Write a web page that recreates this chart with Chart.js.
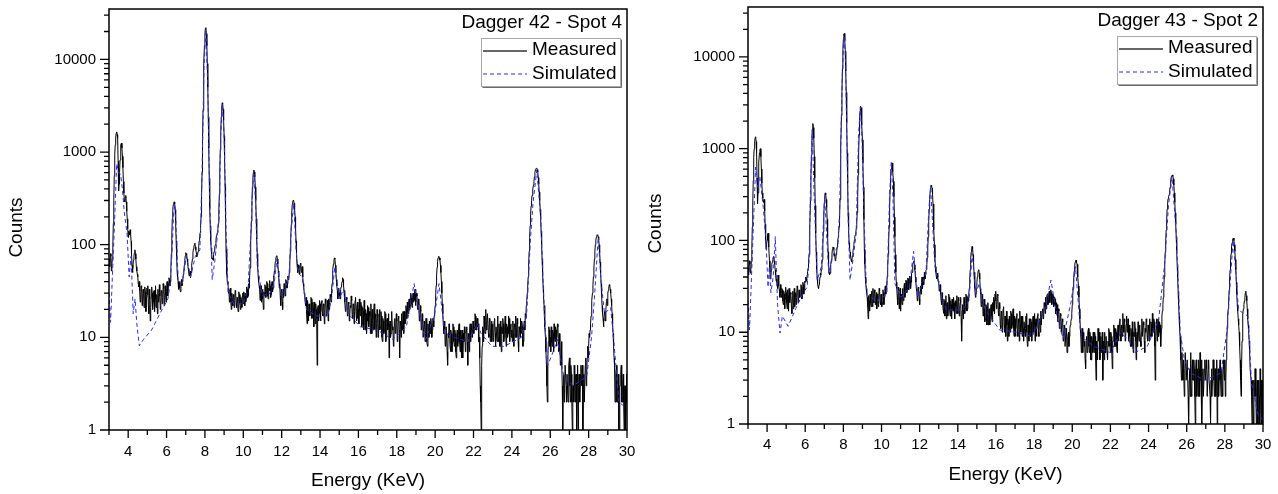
<!DOCTYPE html>
<html>
<head>
<meta charset="utf-8">
<script src="https://cdn.jsdelivr.net/npm/chart.js@4.4.1/dist/chart.umd.min.js"></script>
<style>
  html, body { margin: 0; padding: 0; background: #fff; }
  #wrap { position: relative; width: 1278px; height: 494px; }
  canvas { position: absolute; top: 0; }
  #left { left: 0; }
  #right { left: 640px; }
</style>
</head>
<body>
<div id="wrap">
  <canvas id="left" width="640" height="494"></canvas>
  <canvas id="right" width="638" height="494"></canvas>
</div>
<script>
const FONT = '"Liberation Sans", Arial, sans-serif'

// energy grid of the measured spectra (keV)
const channelStart = 3.0
const channelStep = 0.025

const xTickValues = [4, 6, 8, 10, 12, 14, 16, 18, 20, 22, 24, 26, 28, 30]
const xMinorValues = [3, 5, 7, 9, 11, 13, 15, 17, 19, 21, 23, 25, 27, 29]
const yTickValues = [1, 10, 100, 1000, 10000]
const yMinorFactors = [2, 3, 4, 5, 6, 7, 8, 9]

const seriesNames = ["Measured", "Simulated"]
const panelTitles = ["Dagger 42 - Spot 4", "Dagger 43 - Spot 2"]
const xAxisTitle = "Energy (KeV)"
const yAxisTitle = "Counts"

// Dagger 42 - measured counts, one row per keV (3.000, 3.025 ... 3.975, then 4.000 ...)
const measured42 = [
  70, 64, 58, 80, 75, 52, 60, 72, 95, 170, 300, 560, 950, 1200, 1450, 1600, 1650, 1550, 1400, 800, 380, 450, 600, 820, 1050, 1200, 1250, 1100, 900, 680, 480, 360, 300, 290, 320, 340, 290, 230, 190, 150,
  120, 140, 135, 128, 145, 130, 110, 80, 60, 50, 55, 68, 75, 82, 88, 80, 70, 58, 52, 48, 45, 38, 35, 40, 32, 24, 28, 36, 34, 22, 26, 33, 30, 21, 24, 35, 31, 19, 27, 34,
  29, 36, 22, 18, 33, 26, 15, 21, 27, 35, 30, 20, 24, 31, 32, 19, 26, 36, 21, 28, 29, 18, 33, 24, 25, 37, 28, 20, 22, 32, 30, 23, 27, 38, 34, 22, 25, 36, 29, 24,
  31, 40, 35, 28, 38, 44, 42, 36, 40, 55, 80, 130, 190, 240, 270, 285, 290, 275, 240, 170, 110, 75, 52, 44, 40, 33, 36, 40, 34, 31, 38, 42, 36, 40, 44, 48, 52, 60, 68, 76,
  82, 80, 78, 70, 62, 56, 52, 46, 48, 52, 44, 50, 55, 62, 70, 82, 90, 96, 100, 104, 95, 88, 82, 74, 78, 80, 85, 95, 110, 122, 135, 160, 200, 330, 600, 1300, 2800, 5200, 9000, 14000,
  19000, 21500, 22000, 19000, 14000, 9000, 5000, 2400, 1100, 520, 250, 160, 110, 92, 80, 70, 72, 68, 78, 84, 90, 95, 100, 112, 125, 130, 135, 150, 170, 230, 350, 620, 1050, 1600, 2400, 3000, 3400, 3300, 2900, 2200,
  1500, 850, 450, 200, 90, 62, 48, 38, 40, 30, 33, 24, 28, 34, 24, 20, 30, 25, 22, 29, 27, 21, 25, 32, 31, 23, 21, 27, 26, 19, 24, 31, 29, 23, 20, 27, 25, 21, 28, 30,
  23, 31, 27, 22, 30, 24, 26, 35, 33, 27, 28, 38, 34, 42, 56, 80, 110, 180, 300, 420, 530, 600, 640, 610, 540, 420, 300, 190, 115, 80, 58, 46, 40, 36, 33, 25, 28, 36, 24, 30,
  33, 26, 20, 31, 28, 37, 35, 27, 30, 40, 38, 28, 26, 34, 32, 41, 36, 27, 29, 38, 40, 31, 34, 46, 45, 52, 60, 66, 72, 75, 76, 70, 62, 52, 45, 34, 38, 28, 22, 33,
  30, 24, 20, 33, 27, 38, 35, 28, 32, 42, 40, 34, 38, 46, 42, 45, 50, 64, 85, 120, 165, 220, 270, 292, 300, 295, 280, 245, 200, 150, 110, 80, 62, 55, 50, 60, 56, 48, 52, 63,
  62, 50, 55, 58, 45, 38, 35, 30, 28, 24, 22, 27, 18, 14, 25, 19, 15, 23, 22, 17, 19, 27, 26, 16, 17, 24, 21, 13, 24, 19, 14, 23, 20, 16, 5, 21, 22, 15, 18, 25,
  23, 15, 19, 24, 25, 18, 17, 23, 22, 14, 20, 26, 24, 17, 18, 25, 21, 15, 26, 20, 22, 29, 28, 24, 32, 38, 45, 54, 62, 68, 72, 70, 60, 50, 42, 36, 32, 26, 28, 34,
  30, 28, 26, 33, 35, 38, 40, 44, 42, 36, 32, 27, 24, 19, 20, 27, 26, 17, 18, 24, 23, 15, 17, 22, 21, 28, 25, 17, 16, 23, 22, 14, 19, 25, 27, 18, 15, 21, 24, 16,
  20, 14, 26, 19, 17, 24, 22, 13, 14, 21, 19, 12, 25, 17, 12, 20, 18, 11, 15, 22, 21, 14, 13, 19, 17, 11, 23, 16, 11, 20, 16, 12, 19, 23, 12, 17, 18, 10, 14, 20,
  16, 10, 11, 18, 20, 12, 13, 19, 17, 10, 9, 16, 15, 11, 12, 19, 18, 9, 10, 15, 16, 12, 13, 18, 6, 14, 15, 10, 11, 19, 17, 12, 13, 8, 9, 15, 16, 11, 12, 18,
  15, 9, 11, 16, 17, 12, 6, 15, 14, 10, 18, 13, 12, 19, 16, 11, 19, 14, 15, 22, 20, 16, 24, 19, 18, 25, 26, 20, 22, 30, 28, 23, 21, 27, 30, 24, 25, 31, 33, 22,
  24, 30, 28, 21, 20, 26, 22, 15, 16, 22, 19, 12, 13, 18, 15, 10, 10, 15, 14, 9, 11, 16, 13, 9, 8, 14, 12, 10, 15, 11, 11, 16, 14, 10, 12, 16, 15, 13, 17, 19,
  22, 28, 36, 46, 57, 66, 72, 74, 75, 72, 68, 60, 50, 40, 30, 23, 18, 14, 11, 15, 12, 8, 9, 13, 13, 7, 5, 11, 10, 14, 12, 8, 7, 12, 11, 7, 9, 14, 13, 9,
  8, 12, 11, 7, 6, 10, 12, 8, 9, 13, 14, 9, 7, 12, 10, 6, 12, 9, 6, 11, 9, 13, 11, 7, 8, 12, 13, 9, 5, 11, 10, 7, 12, 14, 9, 12, 14, 10, 11, 15,
  15, 11, 13, 18, 17, 12, 12, 16, 16, 13, 14, 9, 10, 6, 3, 2, 1, 5, 8, 13, 12, 9, 17, 13, 11, 16, 20, 12, 14, 18, 18, 11, 10, 16, 15, 9, 12, 15, 9, 13,
  14, 9, 10, 15, 16, 11, 8, 13, 13, 9, 17, 12, 9, 14, 12, 8, 15, 11, 7, 13, 11, 16, 14, 9, 10, 13, 17, 11, 8, 14, 13, 10, 11, 17, 16, 10, 9, 13, 14, 10,
  12, 9, 15, 11, 8, 14, 13, 10, 17, 12, 10, 16, 14, 9, 7, 13, 12, 10, 16, 12, 11, 15, 13, 8, 9, 14, 15, 12, 18, 16, 22, 25, 30, 36, 45, 62, 85, 120, 160, 210,
  260, 300, 340, 370, 400, 440, 480, 540, 600, 640, 660, 668, 670, 645, 610, 530, 450, 370, 300, 240, 190, 140, 100, 70, 50, 36, 28, 22, 18, 13, 10, 7, 5, 3, 2, 6, 9, 13, 12, 8,
  10, 7, 13, 9, 8, 12, 11, 7, 14, 10, 9, 13, 12, 8, 10, 14, 13, 9, 7, 11, 9, 5, 6, 9, 5, 3, 1, 3, 4, 2, 3, 5, 5, 3, 2, 4, 4, 2, 3, 5,
  6, 3, 2, 5, 4, 2, 1, 3, 3, 2, 5, 3, 2, 4, 4, 1, 3, 5, 1, 3, 4, 2, 2, 4, 5, 3, 3, 5, 1, 3, 4, 2, 2, 5, 6, 3, 4, 6, 8, 6,
  8, 11, 10, 12, 14, 17, 20, 25, 30, 37, 45, 56, 70, 85, 100, 112, 120, 125, 128, 126, 122, 112, 100, 82, 65, 50, 38, 29, 22, 18, 16, 13, 15, 19, 18, 15, 20, 24, 26, 22,
  30, 32, 34, 37, 36, 33, 30, 26, 22, 18, 14, 11, 8, 6, 5, 2, 3, 4, 5, 2, 2, 3, 4, 1, 1, 3, 3, 4, 5, 2, 2, 3, 4, 2, 1, 3, 3, 1, 2, 4,
  2
]

// Dagger 42 - simulated spectrum (smooth curve)
const simEnergy42 = [
  3.0, 3.08, 3.2, 3.3, 3.4, 3.5, 3.6, 3.7, 3.8, 3.94,
  4.05, 4.15, 4.26, 4.36, 4.45, 4.58, 4.8, 5.22, 5.65, 6.07,
  6.2, 6.29, 6.37, 6.44, 6.52, 6.6, 6.82, 7.03, 7.25, 7.5,
  7.74, 7.85, 7.95, 8.05, 8.15, 8.25, 8.38, 8.53, 8.74, 8.82,
  8.91, 9.0, 9.1, 9.21, 9.5, 10.0, 10.25, 10.39, 10.5, 10.56,
  10.65, 10.73, 10.99, 11.4, 11.62, 11.75, 11.9, 12.06, 12.38, 12.5,
  12.63, 12.75, 12.85, 13.06, 13.3, 13.8, 14.4, 14.6, 14.77, 15.0,
  15.22, 15.47, 16.1, 16.97, 17.8, 18.5, 18.9, 19.2, 19.5, 19.96,
  20.2, 20.5, 21.0, 21.7, 22.2, 22.4, 22.95, 23.6, 24.5, 24.77,
  24.95, 25.1, 25.3, 25.5, 25.7, 25.87, 26.15, 26.37, 26.7, 27.2,
  27.9, 28.15, 28.3, 28.5, 28.65, 28.83, 29.15, 29.36, 29.58, 30.0
]
const simCounts42 = [
  30, 14.5, 60, 200, 750, 600, 580, 400, 220, 133,
  45, 75, 18, 26, 14, 8.1, 9.5, 12, 18, 26,
  40, 88, 220, 270, 120, 42, 38, 75, 45, 75,
  88, 600, 8000, 21000, 5000, 300, 42, 70, 200, 1500,
  3300, 1500, 150, 30, 23, 23, 35, 130, 450, 580,
  250, 58, 28, 30, 40, 70, 35, 28, 45, 150,
  280, 90, 50, 45, 20, 17, 17, 26, 58, 26,
  33, 18, 13, 12, 9.5, 13, 38, 17, 9.5, 17,
  38, 11, 10, 9, 14, 11, 8, 8, 10, 18,
  100, 280, 640, 200, 17, 5, 7, 9.5, 3.8, 3.0,
  3.8, 10, 26, 120, 40, 18, 21, 7, 2, 1.7
]

// Dagger 43 - measured counts, one row per keV
const measured43 = [
  50, 42, 45, 60, 55, 44, 48, 58, 80, 140, 250, 450, 800, 1000, 1200, 1320, 1350, 1200, 900, 480, 250, 330, 500, 700, 900, 980, 1000, 820, 600, 420, 330, 290, 270, 260, 280, 210, 150, 100, 80, 90,
  100, 115, 120, 100, 85, 60, 45, 38, 40, 48, 55, 58, 62, 66, 67, 60, 55, 48, 42, 36, 38, 33, 30, 42, 40, 32, 28, 24, 33, 27, 24, 30, 29, 22, 20, 28, 26, 18, 23, 31,
  27, 21, 18, 29, 25, 17, 30, 22, 21, 27, 26, 19, 16, 24, 28, 18, 23, 30, 19, 25, 27, 20, 24, 32, 30, 21, 22, 29, 28, 24, 25, 33, 31, 23, 27, 35, 33, 26, 29, 36,
  35, 40, 38, 36, 42, 46, 50, 58, 70, 95, 140, 270, 500, 850, 1300, 1650, 1880, 1700, 1300, 820, 480, 240, 120, 75, 48, 40, 34, 31, 30, 33, 36, 40, 44, 42, 48, 55, 62, 90, 125, 190,
  260, 310, 330, 315, 280, 230, 170, 110, 75, 55, 45, 42, 44, 50, 55, 62, 70, 80, 85, 84, 80, 72, 68, 60, 62, 70, 75, 85, 95, 108, 120, 140, 165, 280, 500, 1100, 2300, 4200, 7400, 12000,
  15500, 17800, 18000, 15000, 11500, 7000, 4100, 1900, 900, 420, 200, 130, 95, 82, 75, 68, 62, 58, 60, 68, 75, 82, 90, 100, 110, 115, 120, 135, 150, 200, 300, 520, 900, 1400, 2050, 2600, 2900, 2800, 2450, 1800,
  1250, 700, 380, 170, 80, 55, 40, 34, 30, 26, 24, 19, 14, 25, 22, 17, 26, 21, 19, 28, 25, 19, 30, 22, 21, 29, 27, 20, 23, 27, 18, 24, 26, 19, 22, 30, 28, 21, 20, 26,
  25, 19, 21, 29, 27, 20, 24, 30, 32, 26, 30, 34, 40, 52, 70, 100, 140, 230, 360, 480, 600, 670, 700, 650, 560, 440, 300, 180, 110, 70, 45, 35, 30, 24, 20, 31, 28, 18, 22, 30,
  17, 24, 26, 20, 30, 25, 22, 31, 34, 24, 28, 37, 36, 27, 30, 39, 38, 29, 33, 41, 40, 30, 35, 44, 45, 50, 55, 58, 60, 54, 48, 40, 35, 30, 28, 22, 24, 31, 30, 23,
  20, 28, 32, 26, 35, 40, 30, 36, 40, 33, 45, 38, 42, 47, 48, 55, 65, 85, 110, 160, 220, 280, 340, 380, 400, 390, 370, 320, 250, 180, 130, 90, 65, 52, 45, 40, 38, 44, 40, 36,
  35, 28, 30, 33, 26, 22, 20, 27, 24, 18, 16, 23, 22, 15, 19, 25, 14, 20, 21, 15, 18, 26, 24, 17, 15, 22, 20, 14, 23, 18, 17, 24, 21, 15, 14, 22, 19, 16, 25, 18,
  16, 24, 22, 15, 18, 21, 24, 14, 8, 17, 20, 14, 17, 24, 23, 16, 19, 26, 25, 17, 18, 24, 22, 26, 30, 38, 48, 62, 75, 82, 86, 80, 70, 58, 45, 36, 30, 24, 25, 30,
  35, 40, 44, 47, 48, 44, 38, 30, 26, 19, 20, 26, 22, 15, 17, 23, 21, 13, 14, 20, 19, 12, 16, 21, 12, 17, 18, 12, 14, 19, 20, 15, 13, 21, 17, 24, 22, 16, 26, 22,
  28, 18, 20, 26, 25, 16, 15, 21, 18, 12, 11, 17, 16, 10, 13, 18, 19, 12, 10, 15, 14, 9, 17, 12, 8, 14, 13, 9, 15, 11, 10, 17, 16, 11, 12, 16, 18, 11, 9, 15,
  14, 9, 11, 15, 16, 10, 9, 14, 13, 8, 17, 12, 10, 15, 12, 9, 15, 11, 8, 13, 13, 9, 11, 15, 16, 10, 7, 12, 12, 8, 14, 10, 9, 14, 13, 8, 10, 14, 15, 10,
  12, 16, 8, 13, 14, 9, 11, 15, 16, 10, 9, 14, 13, 10, 17, 12, 12, 17, 18, 14, 15, 21, 20, 16, 24, 18, 19, 25, 26, 20, 22, 27, 28, 21, 24, 29, 27, 20, 21, 26,
  25, 19, 20, 24, 23, 16, 17, 21, 20, 13, 14, 18, 17, 11, 12, 16, 15, 10, 10, 14, 13, 8, 9, 12, 11, 7, 7, 11, 10, 6, 6, 9, 10, 7, 9, 11, 12, 13, 14, 16,
  20, 25, 30, 38, 46, 52, 58, 60, 61, 58, 55, 48, 40, 32, 24, 18, 14, 11, 9, 6, 9, 11, 6, 9, 10, 7, 8, 5, 4, 8, 9, 6, 7, 10, 11, 7, 6, 10, 9, 5,
  5, 9, 8, 6, 10, 7, 6, 10, 9, 5, 3, 8, 7, 5, 11, 8, 8, 10, 5, 7, 9, 6, 7, 10, 3, 6, 8, 5, 10, 7, 6, 9, 9, 6, 5, 8, 7, 11, 10, 7,
  6, 10, 9, 6, 4, 8, 8, 12, 11, 7, 7, 11, 10, 7, 6, 10, 12, 8, 9, 13, 14, 10, 8, 12, 11, 9, 16, 12, 10, 14, 13, 8, 9, 12, 15, 10, 11, 14, 8, 11,
  12, 9, 7, 11, 10, 7, 13, 9, 6, 10, 9, 13, 11, 8, 5, 9, 10, 7, 13, 10, 8, 12, 11, 8, 7, 10, 14, 9, 9, 13, 12, 8, 6, 11, 10, 14, 13, 9, 8, 12,
  11, 8, 14, 10, 9, 13, 12, 9, 16, 11, 10, 14, 13, 7, 3, 9, 11, 14, 8, 12, 14, 9, 10, 13, 12, 9, 7, 11, 15, 17, 20, 24, 30, 40, 55, 75, 100, 130, 170, 220,
  260, 285, 300, 315, 330, 380, 420, 460, 500, 512, 515, 500, 470, 400, 330, 260, 200, 150, 110, 78, 55, 40, 28, 20, 15, 11, 9, 6, 5, 3, 6, 4, 3, 5, 5, 2, 4, 6, 6, 3,
  3, 5, 5, 2, 1, 3, 4, 2, 6, 3, 2, 4, 5, 3, 3, 5, 4, 2, 1, 4, 5, 2, 3, 4, 2, 5, 4, 2, 6, 3, 3, 5, 1, 3, 4, 2, 2, 4, 5, 3,
  3, 5, 4, 2, 2, 4, 5, 3, 3, 2, 1, 3, 4, 2, 3, 5, 5, 3, 2, 4, 4, 2, 3, 5, 1, 3, 4, 2, 3, 4, 5, 3, 2, 4, 4, 2, 3, 5, 4, 3,
  5, 2, 3, 5, 8, 11, 15, 18, 22, 29, 38, 48, 60, 72, 85, 94, 100, 104, 106, 100, 90, 76, 62, 48, 35, 26, 20, 17, 14, 12, 10, 7, 5, 3, 2, 4, 8, 12, 16, 18,
  20, 22, 24, 27, 28, 25, 22, 18, 14, 12, 10, 8, 6, 4, 4, 3, 2, 1, 3, 2, 1, 3, 2, 4, 4, 2, 1, 2, 3, 1, 1, 3, 2, 1, 4, 2, 1, 3, 3, 1,
  2
]

// Dagger 43 - simulated spectrum
const simEnergy43 = [
  3.0, 3.08, 3.2, 3.3, 3.4, 3.5, 3.62, 3.8, 3.94, 4.05,
  4.12, 4.2, 4.32, 4.43, 4.55, 4.68, 4.8, 5.1, 5.5, 5.9,
  6.1, 6.2, 6.28, 6.37, 6.47, 6.63, 6.85, 6.95, 7.02, 7.12,
  7.23, 7.49, 7.71, 7.8, 7.88, 7.95, 8.03, 8.1, 8.18, 8.26,
  8.35, 8.5, 8.67, 8.8, 8.89, 8.98, 9.06, 9.21, 9.75, 10.28,
  10.42, 10.51, 10.6, 10.7, 11.03, 11.46, 11.68, 11.9, 12.33, 12.47,
  12.57, 12.68, 12.8, 13.07, 13.4, 14.26, 14.58, 14.75, 14.95, 15.12,
  15.44, 16.19, 17.05, 17.9, 18.56, 18.88, 19.2, 19.52, 19.95, 20.17,
  20.45, 21.14, 22.0, 22.53, 22.96, 23.28, 23.93, 24.53, 24.83, 25.05,
  25.23, 25.45, 25.66, 25.88, 26.2, 26.95, 27.8, 28.1, 28.3, 28.43,
  28.6, 28.71, 29.0, 29.2, 29.4, 29.72, 30.0
]
const simCounts43 = [
  22, 10.6, 50, 180, 630, 380, 500, 230, 100, 31,
  52, 27, 40, 110, 20, 9.8, 15, 11.6, 18, 27,
  31, 60, 400, 1600, 300, 37, 52, 150, 300, 120,
  44, 72, 86, 200, 1500, 7000, 17000, 11000, 1500, 150,
  37, 61, 120, 1500, 2850, 1200, 275, 26, 22, 26,
  300, 720, 300, 34, 24, 31, 76, 24, 44, 200,
  385, 150, 52, 29, 17.5, 17.5, 22, 72, 26, 34,
  17.5, 10.6, 10, 9, 17.5, 37, 15, 8.5, 22, 52,
  9, 7, 6, 9.8, 8.3, 6, 7, 13.7, 52, 250,
  490, 120, 10, 5, 3.6, 3, 3.6, 10, 40, 100,
  40, 17.5, 16, 15, 2.8, 1.3, 1.1
]

// frame, ticks and tick labels, axis titles and the boxed legend
const decorPlugin = {
  id: "decor",
  afterDraw(chart, args, opts) {
    const ctx = chart.ctx
    const { left, right, top, bottom } = chart.chartArea
    const xs = chart.scales.x
    const ys = chart.scales.y
    ctx.save()

    ctx.strokeStyle = "#000"
    ctx.lineWidth = 1.5
    ctx.strokeRect(left, top, right - left, bottom - top)

    ctx.lineWidth = 1.3
    ctx.beginPath()
    xTickValues.forEach((v) => {
      const p = xs.getPixelForValue(v)
      ctx.moveTo(p, bottom)
      ctx.lineTo(p, bottom + 8)
    })
    xMinorValues.forEach((v) => {
      const p = xs.getPixelForValue(v)
      ctx.moveTo(p, bottom)
      ctx.lineTo(p, bottom + 5)
    })
    yTickValues.forEach((d) => {
      const p = ys.getPixelForValue(d)
      ctx.moveTo(left, p)
      ctx.lineTo(left - 9, p)
      yMinorFactors.forEach((f) => {
        if (d * f > ys.max) return
        const q = ys.getPixelForValue(d * f)
        ctx.moveTo(left, q)
        ctx.lineTo(left - 5, q)
      })
    })
    ctx.stroke()

    // tick labels
    ctx.fillStyle = "#000"
    ctx.font = "15px " + FONT
    ctx.textBaseline = "middle"
    ctx.textAlign = "center"
    xTickValues.forEach((v) => {
      ctx.fillText(String(v), xs.getPixelForValue(v), bottom + opts.xLabelGap)
    })
    ctx.textAlign = "right"
    yTickValues.forEach((v) => {
      ctx.fillText(String(v), left - 13, ys.getPixelForValue(v))
    })

    // axis titles
    ctx.font = "19px " + FONT
    ctx.textAlign = "center"
    ctx.fillText(xAxisTitle, (left + right) / 2, bottom + opts.xTitleGap)
    ctx.save()
    ctx.translate(left - 92, (top + bottom) / 2 + 8)
    ctx.rotate(-Math.PI / 2)
    ctx.fillText(yAxisTitle, 0, 0)
    ctx.restore()

    // panel title
    ctx.textAlign = "right"
    ctx.fillText(opts.title, right - 5, top + 14)

    // legend box
    const bx = right - 146
    const by = top + 29
    const bw = 139
    const bh = 48
    ctx.fillStyle = "#fff"
    ctx.fillRect(bx, by, bw, bh)
    ctx.lineWidth = 1
    ctx.strokeStyle = "#a8a8a8"
    ctx.strokeRect(bx + 0.5, by + 0.5, bw, bh)
    ctx.strokeStyle = "#6a6a6a"
    ctx.beginPath()
    ctx.moveTo(bx + 1.5, by + bh + 1.5)
    ctx.lineTo(bx + bw + 1.5, by + bh + 1.5)
    ctx.lineTo(bx + bw + 1.5, by + 1.5)
    ctx.stroke()

    ctx.lineWidth = 1.3
    ctx.strokeStyle = "#333"
    ctx.beginPath()
    ctx.moveTo(bx + 2, by + 13)
    ctx.lineTo(bx + 46, by + 13)
    ctx.stroke()
    ctx.lineWidth = 1
    ctx.strokeStyle = "rgb(40,40,255)"
    ctx.setLineDash([4, 3])
    ctx.beginPath()
    ctx.moveTo(bx + 2, by + 36)
    ctx.lineTo(bx + 46, by + 36)
    ctx.stroke()
    ctx.setLineDash([])

    ctx.fillStyle = "#000"
    ctx.textAlign = "left"
    ctx.fillText(seriesNames[0], bx + 51, by + 12)
    ctx.fillText(seriesNames[1], bx + 51, by + 36)

    ctx.restore()
  },
}

function makeChart(canvasId, measured, simE, simC, title, lay) {
  const measPoints = measured.map((c, i) => ({ x: +(channelStart + i * channelStep).toFixed(3), y: c }))
  const simPoints = simE.map((e, i) => ({ x: e, y: simC[i] }))

  return new Chart(document.getElementById(canvasId), {
    type: "line",
    data: {
      datasets: [
        {
          label: seriesNames[1],
          data: simPoints,
          borderColor: "rgb(40,40,255)",
          borderWidth: 1,
          borderDash: [4, 3],
          pointRadius: 0,
          tension: 0,
          fill: false,
        },
        {
          label: seriesNames[0],
          data: measPoints,
          borderColor: "#000",
          borderWidth: 1,
          pointRadius: 0,
          tension: 0,
          fill: false,
        },
      ],
    },
    options: {
      responsive: false,
      animation: false,
      devicePixelRatio: 1,
      events: [],
      layout: { padding: { top: lay.top, right: lay.right, left: 0, bottom: 0 } },
      plugins: {
        legend: { display: false },
        tooltip: { enabled: false },
        decor: { title: title, xLabelGap: lay.xLabelGap, xTitleGap: lay.xTitleGap },
      },
      scales: {
        x: {
          type: "linear",
          min: 3,
          max: 30,
          grid: { display: false },
          border: { display: false },
          ticks: { display: false },
          afterFit: (s) => {
            s.height = lay.xHeight
          },
        },
        y: {
          type: "logarithmic",
          min: 1,
          max: 35000,
          grid: { display: false },
          border: { display: false },
          ticks: { display: false },
          afterFit: (s) => {
            s.width = lay.yWidth
          },
        },
      },
    },
    plugins: [decorPlugin],
  })
}

makeChart("left", measured42, simEnergy42, simCounts42, panelTitles[0],
  { top: 9, right: 13, yWidth: 109, xHeight: 64, xLabelGap: 22, xTitleGap: 51 })
makeChart("right", measured43, simEnergy43, simCounts43, panelTitles[1],
  { top: 7, right: 15, yWidth: 108, xHeight: 70, xLabelGap: 21, xTitleGap: 51 })
</script>
</body>
</html>
